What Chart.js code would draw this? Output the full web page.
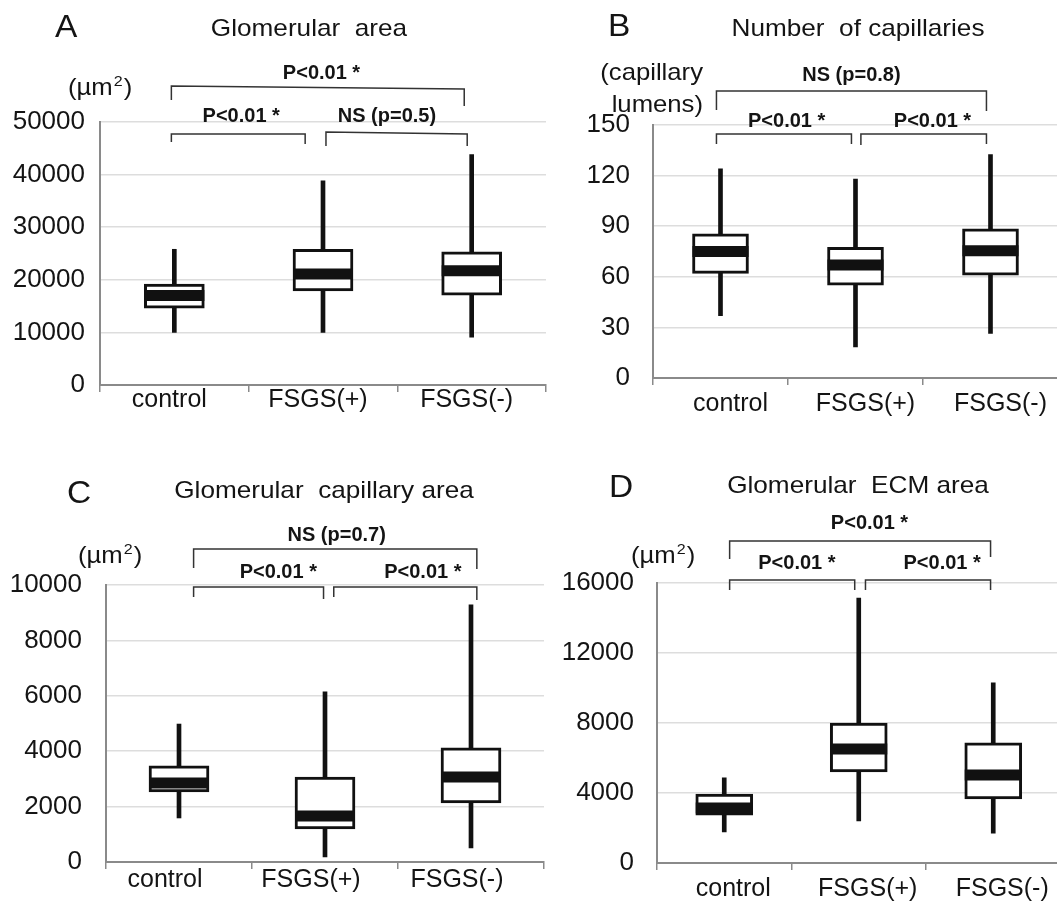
<!DOCTYPE html>
<html>
<head>
<meta charset="utf-8">
<script src="https://cdn.jsdelivr.net/npm/chart.js@4.4.0/dist/chart.umd.min.js"></script>
<style>
html,body{margin:0;padding:0;background:#fff;overflow:hidden;width:1057px;height:905px;}
canvas{position:absolute;left:0;top:0;}
</style>
</head>
<body>
<canvas id="cA" width="1100" height="905"></canvas>
<canvas id="cB" width="1100" height="905"></canvas>
<canvas id="cC" width="1100" height="905"></canvas>
<canvas id="cD" width="1100" height="905"></canvas>
<script>
// ---------- data ----------
const categories = ['control', 'FSGS(+)', 'FSGS(-)'];

// A: Glomerular area (µm²)
const areaMin = [10000, 10000, 9100];
const areaQ1  = [14600, 17900, 17100];
const areaMed = [17000, 21100, 21700];
const areaQ3  = [19200, 25800, 25300];
const areaMax = [25800, 38800, 43800];

// B: Number of capillaries (capillary lumens)
const capNMin = [37, 18.5, 26.5];
const capNQ1  = [62, 55, 61];
const capNMed = [75, 67, 75.5];
const capNQ3  = [85.5, 77.5, 88.5];
const capNMax = [124, 118, 132.5];

// C: Glomerular capillary area (µm²)
const capAMin = [1590, 180, 510];
const capAQ1  = [2530, 1190, 2130];
const capAMed = [2850, 1660, 3070];
const capAQ3  = [3470, 3070, 4120];
const capAMax = [4980, 6140, 9280];

// D: Glomerular ECM area (µm²)
const ecmMin = [1770, 2400, 1710];
const ecmQ1  = [2740, 5200, 3660];
const ecmMed = [3140, 6510, 5030];
const ecmQ3  = [3940, 8000, 6860];
const ecmMax = [4860, 15140, 10290];

// y-axis tick settings
const yMaxA = 50000, yStepA = 10000;
const yMaxB = 150,   yStepB = 30;
const yMaxC = 10000, yStepC = 2000;
const yMaxD = 16000, yStepD = 4000;

// ---------- helpers ----------
const FONT = "'Liberation Sans', Arial, Helvetica, sans-serif";
const TEXT = '#141414';
const CW = 1100, CH = 905, YAXW = 100, XAXH = 50;

function txt(ctx, s, x, y, font, align, sx) {
  ctx.save();
  ctx.font = font; ctx.textAlign = align; ctx.textBaseline = 'alphabetic';
  ctx.fillStyle = TEXT;
  ctx.translate(x, y); ctx.scale(sx, 1);
  ctx.fillText(s, 0, 0);
  ctx.restore();
}
function measure(ctx, s, font, sx) {
  ctx.save(); ctx.font = font; const w = ctx.measureText(s).width * sx; ctx.restore(); return w;
}

function makeAnnot(a) {
  return {
    id: 'annot',
    afterDraw(chart) {
      const ctx = chart.ctx, ca = chart.chartArea, xs = chart.scales.x;
      const L = ca.left, T = ca.top;
      txt(ctx, a.letter, L + a.letterPos[0], T + a.letterPos[1], `31px ${FONT}`, 'left', 1.08);
      txt(ctx, a.title, L + a.titlePos[0], T + a.titlePos[1], `24px ${FONT}`, 'center', 1.09);
      if (a.unit) {
        const f = `24px ${FONT}`, fs = `15px ${FONT}`, sx = 1.07;
        let x = L + a.unit[0], y = T + a.unit[1];
        txt(ctx, '(µm', x, y, f, 'left', sx);
        x += measure(ctx, '(µm', f, sx) + 1;
        txt(ctx, '2', x, y - 9, fs, 'left', sx);
        x += measure(ctx, '2', fs, sx) + 1;
        txt(ctx, ')', x, y, f, 'left', sx);
      }
      if (a.unitLines) {
        for (const u of a.unitLines) txt(ctx, u[0], L + u[1], T + u[2], `24px ${FONT}`, 'right', 1.07);
      }
      ctx.save();
      ctx.strokeStyle = '#333'; ctx.lineWidth = 1.5; ctx.lineJoin = 'miter';
      for (const b of a.brackets) {
        const x1 = xs.getPixelForValue(b.from), x2 = xs.getPixelForValue(b.to);
        ctx.beginPath();
        ctx.moveTo(x1, T + b.legs[0]);
        ctx.lineTo(x1, T + b.y[0]);
        ctx.lineTo(x2, T + b.y[1]);
        ctx.lineTo(x2, T + b.legs[1]);
        ctx.stroke();
        txt(ctx, b.label, xs.getPixelForValue(b.labelAt), T + b.labelY, `bold 20px ${FONT}`, 'center', 1);
      }
      ctx.restore();
    }
  };
}

function boxDatasets(mins, q1s, meds, q3s, maxs, boxW) {
  return [
    { type: 'line', data: meds, showLine: false, pointStyle: 'line', pointRadius: boxW / 2,
      pointBorderWidth: 11, pointBorderColor: '#111', pointBackgroundColor: '#111', order: 0 },
    { type: 'bar', data: q1s.map((q, i) => [q, q3s[i]]), backgroundColor: '#fff', borderColor: '#111',
      borderWidth: 3, borderSkipped: false, barThickness: boxW, grouped: false, order: 1 },
    { type: 'bar', data: mins.map((m, i) => [m, maxs[i]]), backgroundColor: '#111', borderWidth: 0,
      barThickness: 4, grouped: false, order: 2 }
  ];
}

function makePanel(id, p) {
  const ds = boxDatasets(p.min, p.q1, p.med, p.q3, p.max, p.boxW);
  new Chart(document.getElementById(id), {
    type: 'bar',
    data: { labels: categories, datasets: ds },
    options: {
      responsive: false, animation: false, devicePixelRatio: 1, events: [],
      layout: { padding: { left: p.area.left - YAXW, right: CW - p.area.right, top: p.area.top,
                           bottom: CH - p.area.bottom - XAXH } },
      plugins: { legend: { display: false }, tooltip: { enabled: false }, title: { display: false } },
      scales: {
        x: {
          offset: true,
          grid: { display: true, drawOnChartArea: false, drawTicks: true, tickLength: 7, offset: true,
                  color: '#8a8a8a', lineWidth: 1.5 },
          border: { display: true, color: '#8a8a8a', width: 2 },
          ticks: { color: TEXT, font: { family: FONT, size: 25 }, padding: p.xPad, labelOffset: p.labelOffset,
                   maxRotation: 0, autoSkip: false },
          afterFit: s => { s.height = XAXH; }
        },
        y: {
          min: 0, max: p.yMax,
          grid: { color: '#dddddd', lineWidth: 1.5, drawTicks: false },
          border: { display: true, color: '#8a8a8a', width: 2 },
          ticks: { stepSize: p.yStep, color: TEXT, font: { family: FONT, size: 26 }, padding: p.yPad,
                   callback: v => String(v) },
          afterFit: s => { s.width = YAXW; }
        }
      }
    },
    plugins: [makeAnnot(p.annot)]
  });
}

makePanel('cA', {
  min: areaMin, q1: areaQ1, med: areaMed, q3: areaQ3, max: areaMax, boxW: 60,
  area: { left: 100, right: 546, top: 122, bottom: 385 },
  yMax: yMaxA, yStep: yStepA, yPad: 15, xPad: -7, labelOffset: -5,
  annot: {
    letter: 'A', letterPos: [-45, -85], title: 'Glomerular  area', titlePos: [209, -86],
    unit: [-32, -27],
    brackets: [
      { from: -0.02, to: 1.95, y: [-36, -33], legs: [-22, -16], label: 'P<0.01 *', labelAt: 0.99, labelY: -43 },
      { from: -0.02, to: 0.88, y: [12, 12], legs: [20, 22], label: 'P<0.01 *', labelAt: 0.45, labelY: 0 },
      { from: 1.02, to: 1.97, y: [10, 12], legs: [24, 24], label: 'NS (p=0.5)', labelAt: 1.43, labelY: 0 }
    ]
  }
});

makePanel('cB', {
  min: capNMin, q1: capNQ1, med: capNMed, q3: capNQ3, max: capNMax, boxW: 56,
  area: { left: 653, right: 1058, top: 125, bottom: 378 },
  yMax: yMaxB, yStep: yStepB, yPad: 23, xPad: 4, labelOffset: 10,
  annot: {
    letter: 'B', letterPos: [-45, -89], title: 'Number  of capillaries', titlePos: [205, -89],
    unitLines: [['(capillary', 50, -45], ['lumens)', 50, -13]],
    brackets: [
      { from: -0.03, to: 1.97, y: [-34, -34], legs: [-15, -14], label: 'NS (p=0.8)', labelAt: 0.97, labelY: -44 },
      { from: -0.03, to: 0.97, y: [9, 9], legs: [19, 19], label: 'P<0.01 *', labelAt: 0.49, labelY: 2 },
      { from: 1.04, to: 1.97, y: [9, 9], legs: [20, 19], label: 'P<0.01 *', labelAt: 1.57, labelY: 2 }
    ]
  }
});

makePanel('cC', {
  min: capAMin, q1: capAQ1, med: capAMed, q3: capAQ3, max: capAMax, boxW: 60,
  area: { left: 106, right: 544, top: 585, bottom: 862 },
  yMax: yMaxC, yStep: yStepC, yPad: 24, xPad: -4, labelOffset: -14,
  annot: {
    letter: 'C', letterPos: [-39, -82], title: 'Glomerular  capillary area', titlePos: [218, -87],
    unit: [-28, -22],
    brackets: [
      { from: 0.10, to: 2.04, y: [-36, -36], legs: [-17, -16], label: 'NS (p=0.7)', labelAt: 1.08, labelY: -44 },
      { from: 0.10, to: 0.99, y: [2, 2], legs: [12, 14], label: 'P<0.01 *', labelAt: 0.68, labelY: -7 },
      { from: 1.06, to: 2.04, y: [2, 2], legs: [12, 15], label: 'P<0.01 *', labelAt: 1.67, labelY: -7 }
    ]
  }
});

makePanel('cD', {
  min: ecmMin, q1: ecmQ1, med: ecmMed, q3: ecmQ3, max: ecmMax, boxW: 57,
  area: { left: 657, right: 1065, top: 583, bottom: 863 },
  yMax: yMaxD, yStep: yStepD, yPad: 23, xPad: 4, labelOffset: 9,
  annot: {
    letter: 'D', letterPos: [-48, -86], title: 'Glomerular  ECM area', titlePos: [201, -90],
    unit: [-26, -20],
    brackets: [
      { from: 0.04, to: 1.98, y: [-42, -42], legs: [-24, -26], label: 'P<0.01 *', labelAt: 1.08, labelY: -54 },
      { from: 0.04, to: 0.97, y: [-3, -3], legs: [7, 7], label: 'P<0.01 *', labelAt: 0.54, labelY: -14 },
      { from: 1.05, to: 1.98, y: [-3, -3], legs: [7, 7], label: 'P<0.01 *', labelAt: 1.62, labelY: -14 }
    ]
  }
});
</script>
</body>
</html>
